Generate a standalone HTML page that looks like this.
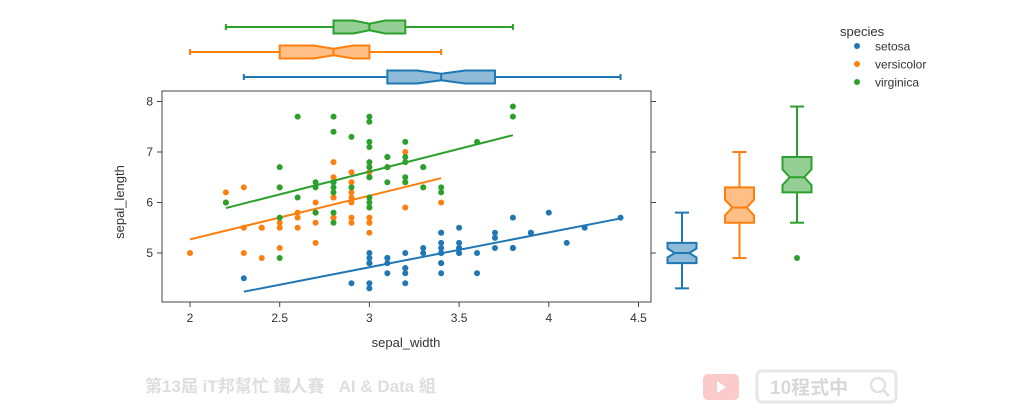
<!DOCTYPE html>
<html><head><meta charset="utf-8">
<style>
body{margin:0;background:#fff;}
svg{display:block;font-family:"Liberation Sans","DejaVu Sans",sans-serif;}
</style></head>
<body>
<svg id="chart" width="1024" height="419" viewBox="0 0 1024 419">
  <g>
    <text x="145" y="392" font-size="17" font-weight="bold" fill="#dedede" font-family="'Liberation Sans','Noto Sans CJK TC',sans-serif">第13屆 iT邦幫忙 鐵人賽 &#160;&#160;AI &amp; Data 組</text>
    <rect x="703" y="374" width="36" height="26" rx="5" fill="#fbcaca"/>
    <polygon points="717,381 717,393 726,387" fill="#fff"/>
    <rect x="757" y="371" width="139" height="31" rx="5" fill="#fff" stroke="#e6e6e6" stroke-width="3"/>
    <text x="770" y="394" font-size="19" font-weight="bold" fill="#d8d8d8" font-family="'Liberation Sans','Noto Sans CJK TC',sans-serif">10程式中</text>
    <circle cx="878" cy="385" r="7" fill="none" stroke="#e2e2e2" stroke-width="2.5"/>
    <line x1="883" y1="390" x2="889" y2="396" stroke="#e2e2e2" stroke-width="3"/>
  </g>
  <g id="axes"></g>
  <g id="marks"></g>
  <g>
    <text x="840" y="36" font-size="13" fill="#333">species</text>
    <circle cx="857" cy="46" r="3" fill="#1f77b4"/>
    <text x="875" y="50.5" font-size="12" fill="#333">setosa</text>
    <circle cx="857" cy="64" r="3" fill="#ff7f0e"/>
    <text x="875" y="68.5" font-size="12" fill="#333">versicolor</text>
    <circle cx="857" cy="82" r="3" fill="#2ca02c"/>
    <text x="875" y="86.5" font-size="12" fill="#333">virginica</text>
  </g>
  <text x="406" y="347" font-size="13" fill="#333" text-anchor="middle">sepal_width</text>
  <text x="124" y="202" font-size="13" fill="#333" text-anchor="middle" transform="rotate(-90 124 202)">sepal_length</text>
</svg>
<script>
const species = ["setosa","versicolor","virginica"];
const colors = ["#1f77b4","#ff7f0e","#2ca02c"];
const setosaW = [3.5,3.0,3.2,3.1,3.6,3.9,3.4,3.4,2.9,3.1,3.7,3.4,3.0,3.0,4.0,4.4,3.9,3.5,3.8,3.8,3.4,3.7,3.6,3.3,3.4,3.0,3.4,3.5,3.4,3.2,3.1,3.4,4.1,4.2,3.1,3.2,3.5,3.1,3.0,3.4,3.5,2.3,3.2,3.5,3.8,3.0,3.8,3.2,3.7,3.3];
const setosaL = [5.1,4.9,4.7,4.6,5.0,5.4,4.6,5.0,4.4,4.9,5.4,4.8,4.8,4.3,5.8,5.7,5.4,5.1,5.7,5.1,5.4,5.1,4.6,5.1,4.8,5.0,5.0,5.2,5.2,4.7,4.8,5.4,5.2,5.5,4.9,5.0,5.5,4.9,4.4,5.1,5.0,4.5,4.4,5.0,5.1,4.8,5.1,4.6,5.3,5.0];
const versiW = [3.2,3.2,3.1,2.3,2.8,2.8,3.3,2.4,2.9,2.7,2.0,3.0,2.2,2.9,2.9,3.1,3.0,2.7,2.2,2.5,3.2,2.8,2.5,2.8,2.9,3.0,2.8,3.0,2.9,2.6,2.4,2.4,2.7,2.7,3.0,3.4,3.1,2.3,3.0,2.5,2.6,3.0,2.6,2.3,2.7,3.0,2.9,2.9,2.5,2.8];
const versiL = [7.0,6.4,6.9,5.5,6.5,5.7,6.3,4.9,6.6,5.2,5.0,5.9,6.0,6.1,5.6,6.7,5.6,5.8,6.2,5.6,5.9,6.1,6.3,6.1,6.4,6.6,6.8,6.7,6.0,5.7,5.5,5.5,5.8,6.0,5.4,6.0,6.7,6.3,5.6,5.5,5.5,6.1,5.8,5.0,5.6,5.7,5.7,6.2,5.1,5.7];
const virgW = [3.3,2.7,3.0,2.9,3.0,3.0,2.5,2.9,2.5,3.6,3.2,2.7,3.0,2.5,2.8,3.2,3.0,3.8,2.6,2.2,3.2,2.8,2.8,2.7,3.3,3.2,2.8,3.0,2.8,3.0,2.8,3.8,2.8,2.8,2.6,3.0,3.4,3.1,3.0,3.1,3.1,3.1,2.7,3.2,3.3,3.0,2.5,3.0,3.4,3.0];
const virgL = [6.3,5.8,7.1,6.3,6.5,7.6,4.9,7.3,6.7,7.2,6.5,6.4,6.8,5.7,5.8,6.4,6.5,7.7,7.7,6.0,6.9,5.6,7.7,6.3,6.7,7.2,6.2,6.1,6.4,7.2,7.4,7.9,6.4,6.3,6.1,7.7,6.3,6.4,6.0,6.9,6.7,6.9,5.8,6.8,6.7,6.7,6.3,6.5,6.2,5.9];
// box stats [lowerWhisker, q1, median, q3, upperWhisker]
const widthBox = [[2.3,3.1,3.4,3.7,4.4],[2.0,2.5,2.8,3.0,3.4],[2.2,2.8,3.0,3.2,3.8]];
const lengthBox = [[4.3,4.8,5.0,5.2,5.8],[4.9,5.6,5.9,6.3,7.0],[5.6,6.2,6.5,6.9,7.9]];
const lengthOutliers = [[],[],[4.9]];
const xTicks = [2,2.5,3,3.5,4,4.5];
const yTicks = [5,6,7,8];

const NS="http://www.w3.org/2000/svg";
const X0=162,X1=651,Y0=91,Y1=302;
const xs=v=>190+(v-2)*179.4;
const ys=v=>253-(v-5)*50.5;
function mk(tag,attrs,parent){const e=document.createElementNS(NS,tag);for(const k in attrs)e.setAttribute(k,attrs[k]);parent.appendChild(e);return e;}
const axes=document.getElementById('axes'), marks=document.getElementById('marks');

const frame=mk('rect',{x:X0,y:Y0,width:X1-X0,height:Y1-Y0,fill:'none',stroke:'#444','stroke-width':1},axes);


xTicks.forEach(t=>{
  const x=xs(t);
  mk('line',{x1:x,x2:x,y1:Y1,y2:Y1+5,stroke:'#444'},axes);
  const tx=mk('text',{x:x,y:Y1+20,'font-size':12,fill:'#333','text-anchor':'middle'},axes);
  tx.textContent=String(t);
  
  
});
yTicks.forEach(t=>{
  const y=ys(t);
  mk('line',{x1:X0-5,x2:X0,y1:y,y2:y,stroke:'#444'},axes);
  mk('line',{x1:X1,x2:X1+5,y1:y,y2:y,stroke:'#444'},axes);
  const ty=mk('text',{x:X0-9,y:y+4,'font-size':12,fill:'#333','text-anchor':'end'},axes);
  ty.textContent=String(t);
  
  
});

const Ws=[setosaW,versiW,virgW], Ls=[setosaL,versiL,virgL];
species.forEach((s,i)=>{
  const W=Ws[i],L=Ls[i],c=colors[i];
  const n=W.length,mx=W.reduce((a,b)=>a+b)/n,my=L.reduce((a,b)=>a+b)/n;
  let sxy=0,sxx=0;for(let k=0;k<n;k++){sxy+=(W[k]-mx)*(L[k]-my);sxx+=(W[k]-mx)**2;}
  const b=sxy/sxx,a=my-b*mx,wmin=Math.min(...W),wmax=Math.max(...W);
  W.forEach((w,k)=>{
    const p=mk('circle',{cx:xs(w),cy:ys(L[k]),r:3,fill:c},marks);
    
    
  });
  const ln=mk('line',{x1:xs(wmin),y1:ys(a+b*wmin),x2:xs(wmax),y2:ys(a+b*wmax),stroke:c,'stroke-width':2},marks);
  
  

  // top marginal box (horizontal)
  const cy=77-i*25, hh=6.5, st=widthBox[i];
  const nd=1.57*(st[3]-st[1])/Math.sqrt(n);
  const nlo=Math.max(st[1],st[2]-nd), nhi=Math.min(st[3],st[2]+nd);
  const g=mk('g',{},marks);
  
  
  mk('line',{x1:xs(st[0]),x2:xs(st[1]),y1:cy,y2:cy,stroke:c,'stroke-width':2},g);
  mk('line',{x1:xs(st[3]),x2:xs(st[4]),y1:cy,y2:cy,stroke:c,'stroke-width':2},g);
  mk('line',{x1:xs(st[0]),x2:xs(st[0]),y1:cy-3,y2:cy+3,stroke:c,'stroke-width':2},g);
  mk('line',{x1:xs(st[4]),x2:xs(st[4]),y1:cy-3,y2:cy+3,stroke:c,'stroke-width':2},g);
  const ind=hh*0.5;
  const pts=[[st[1],cy-hh],[nlo,cy-hh],[st[2],cy-hh+ind],[nhi,cy-hh],[st[3],cy-hh],[st[3],cy+hh],[nhi,cy+hh],[st[2],cy+hh-ind],[nlo,cy+hh],[st[1],cy+hh]].map(p=>xs(p[0])+','+p[1]).join(' ');
  mk('polygon',{points:pts,fill:c,'fill-opacity':0.5,stroke:c,'stroke-width':2},g);
  mk('line',{x1:xs(st[2]),x2:xs(st[2]),y1:cy-hh+ind,y2:cy+hh-ind,stroke:c,'stroke-width':2},g);

  // right marginal box (vertical)
  const cx=682+i*57.5, hw=14.5, sl=lengthBox[i];
  const ld=1.57*(sl[3]-sl[1])/Math.sqrt(n);
  const llo=Math.max(sl[1],sl[2]-ld), lhi=Math.min(sl[3],sl[2]+ld);
  const g2=mk('g',{},marks);
  
  
  mk('line',{x1:cx,x2:cx,y1:ys(sl[0]),y2:ys(sl[1]),stroke:c,'stroke-width':2},g2);
  mk('line',{x1:cx,x2:cx,y1:ys(sl[3]),y2:ys(sl[4]),stroke:c,'stroke-width':2},g2);
  mk('line',{x1:cx-7,x2:cx+7,y1:ys(sl[0]),y2:ys(sl[0]),stroke:c,'stroke-width':2},g2);
  mk('line',{x1:cx-7,x2:cx+7,y1:ys(sl[4]),y2:ys(sl[4]),stroke:c,'stroke-width':2},g2);
  const vi=hw*0.5;
  const pts2=[[cx-hw,sl[1]],[cx-hw,llo],[cx-hw+vi,sl[2]],[cx-hw,lhi],[cx-hw,sl[3]],[cx+hw,sl[3]],[cx+hw,lhi],[cx+hw-vi,sl[2]],[cx+hw,llo],[cx+hw,sl[1]]].map(p=>p[0]+','+ys(p[1])).join(' ');
  mk('polygon',{points:pts2,fill:c,'fill-opacity':0.5,stroke:c,'stroke-width':2},g2);
  mk('line',{x1:cx-hw+vi,x2:cx+hw-vi,y1:ys(sl[2]),y2:ys(sl[2]),stroke:c,'stroke-width':2},g2);
  lengthOutliers[i].forEach(o=>{
    const oc=mk('circle',{cx:cx,cy:ys(o),r:3,fill:c},g2);
    
    
  });
});
</script>
</body></html>
